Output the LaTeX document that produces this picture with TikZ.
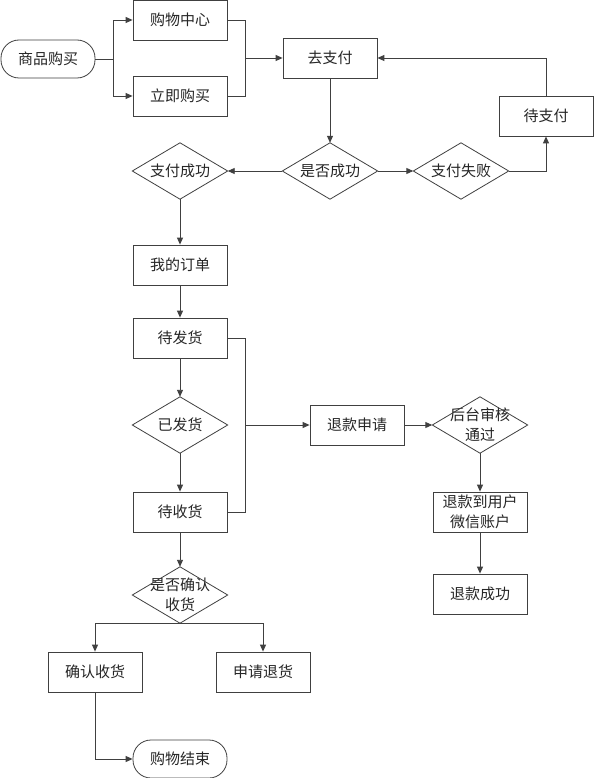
\documentclass[tikz,border=0pt]{standalone}
\usepackage{fontspec}
\newfontfamily\cjk{Noto Sans CJK SC}[Scale=1]
\usetikzlibrary{arrows.meta}
\begin{document}
\begin{tikzpicture}[x=1pt,y=-1pt,
  every node/.style={font=\cjk\fontsize{15}{20}\selectfont, text=black!85},
  box/.style={draw=black!75, line width=0.8pt, minimum width=94pt, minimum height=40pt, inner sep=0pt, align=center},
  stadium/.style={draw=black!75, line width=0.8pt, minimum width=94pt, minimum height=38pt, inner sep=0pt, rounded corners=18pt},
  dia/.style={minimum width=95pt, minimum height=56pt, inner sep=0pt, align=center},
  diaframe/.style={draw=black!75, line width=0.8pt},
  arr/.style={draw=black!75, line width=0.9pt, -{Triangle[length=7pt,width=6pt]}},
  ln/.style={draw=black!75, line width=0.9pt}
]
\useasboundingbox[fill=white] (0,0) rectangle (594,778);

\node[stadium] (start) at (48,59) {商品购买};
\node[box] (gwzx) at (180,20) {购物中心};
\node[box] (ljgm) at (180,96) {立即购买};
\node[box] (qzf) at (330,58) {去支付};
\node[dia] (sfcg) at (330,171) {是否成功};
\node[dia] (zfsb) at (461,171) {支付失败};
\node[box] (dzf) at (546,116) {待支付};
\node[dia] (zfcg) at (180,171) {支付成功};
\node[box] (wddd) at (180,265) {我的订单};
\node[box] (dfh) at (180,338) {待发货};
\node[dia] (yfh) at (180,425) {已发货};
\node[box] (dsh) at (180,512) {待收货};
\node[box] (tksq) at (357,425) {退款申请};
\node[dia] (htsh) at (480,425) {后台审核\\通过};
\node[box] (tkdyh) at (480,512) {退款到用户\\微信账户};
\node[box] (tkcg) at (480,594) {退款成功};
\node[dia] (sfqr) at (180,595) {是否确认\\收货};
\node[box] (qrsh) at (95,672) {确认收货};
\node[box] (sqth) at (263,672) {申请退货};
\node[stadium] (end) at (180,759) {购物结束};

\foreach \d in {sfcg,zfsb,zfcg,yfh,htsh,sfqr}
  \draw[diaframe] (\d.north) -- (\d.east) -- (\d.south) -- (\d.west) -- cycle;

\coordinate (s1) at (113,59);
\coordinate (j1) at (245,58);
\coordinate (r1) at (245,425);

\draw[ln] (start.east) -- (s1);
\draw[arr] (s1) |- (gwzx.west);
\draw[arr] (s1) |- (ljgm.west);
\draw[ln] (gwzx.east) -| (j1);
\draw[ln] (ljgm.east) -| (j1);
\draw[arr] (j1) -- (qzf.west);
\draw[arr] (qzf.south) -- (sfcg.north);
\draw[arr] (sfcg.east) -- (zfsb.west);
\draw[arr] (sfcg.west) -- (zfcg.east);
\draw[arr] (zfsb.east) -| (dzf.south);
\draw[arr] (dzf.north) |- (qzf.east);
\draw[arr] (zfcg.south) -- (wddd.north);
\draw[arr] (wddd.south) -- (dfh.north);
\draw[arr] (dfh.south) -- (yfh.north);
\draw[arr] (yfh.south) -- (dsh.north);
\draw[ln] (dfh.east) -| (r1);
\draw[ln] (dsh.east) -| (r1);
\draw[arr] (r1) -- (tksq.west);
\draw[arr] (tksq.east) -- (htsh.west);
\draw[arr] (htsh.south) -- (tkdyh.north);
\draw[arr] (tkdyh.south) -- (tkcg.north);
\draw[arr] (dsh.south) -- (sfqr.north);
\draw[arr] (sfqr.south) -| (qrsh.north);
\draw[arr] (sfqr.south) -| (sqth.north);
\draw[arr] (qrsh.south) |- (end.west);
\end{tikzpicture}
\end{document}
